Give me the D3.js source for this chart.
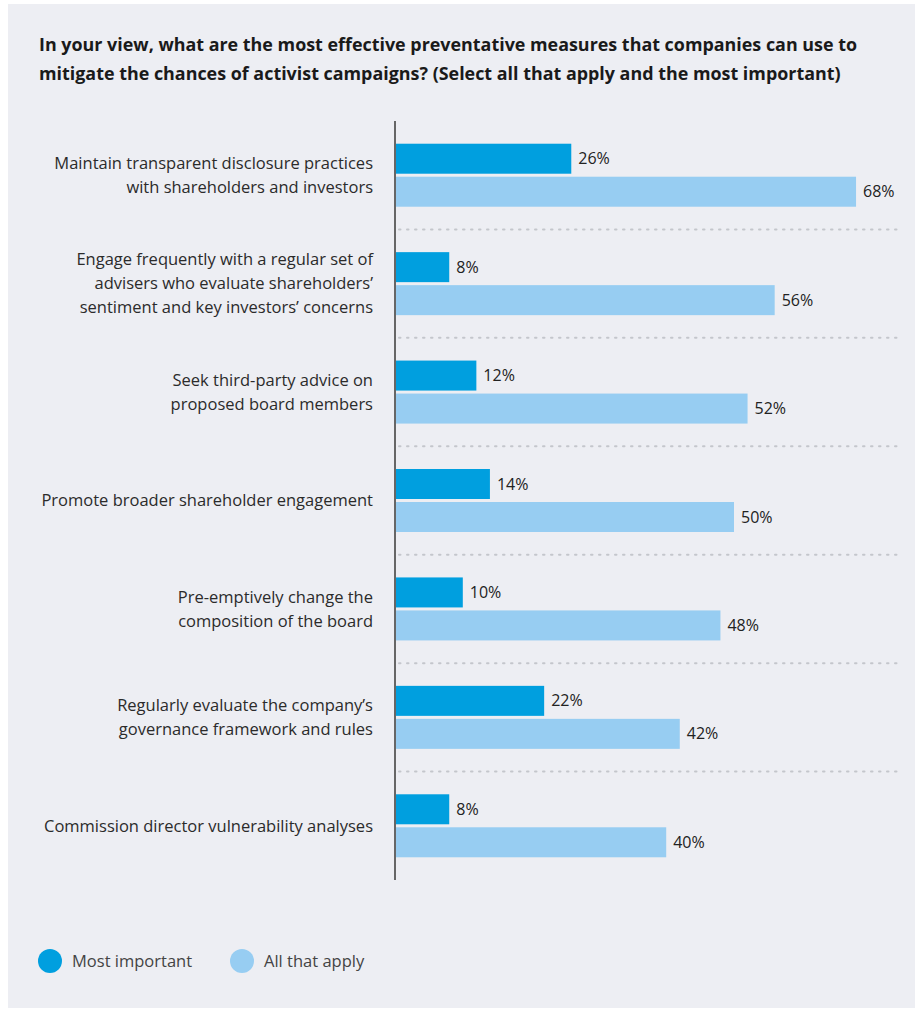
<!DOCTYPE html>
<html>
<head>
<meta charset="utf-8">
<script src="https://cdn.jsdelivr.net/npm/d3@7"></script>
<style>
  html, body { margin: 0; padding: 0; background: #ffffff; }
  svg { display: block; }
  text { font-family: "Open Sans", "Noto Sans", sans-serif; }
</style>
</head>
<body>
<svg id="chart" width="923" height="1010"></svg>
<script>
// Survey answers, one entry per preventative measure
const categories = [
  ["Maintain transparent disclosure practices", "with shareholders and investors"],
  ["Engage frequently with a regular set of", "advisers who evaluate shareholders\u2019", "sentiment and key investors\u2019 concerns"],
  ["Seek third-party advice on", "proposed board members"],
  ["Promote broader shareholder engagement"],
  ["Pre-emptively change the", "composition of the board"],
  ["Regularly evaluate the company\u2019s", "governance framework and rules"],
  ["Commission director vulnerability analyses"]
];
const mostImportant = [26, 8, 12, 14, 10, 22, 8];
const allThatApply = [68, 56, 52, 50, 48, 42, 40];
const seriesNames = ["Most important", "All that apply"];
const seriesColors = ["#009fdf", "#97cdf2"];

const titleLines = [
  "In your view, what are the most effective preventative measures that companies can use to",
  "mitigate the chances of activist campaigns? (Select all that apply and the most important)"
];

const svg = d3.select("#chart");

// Panel background
svg.append("rect")
  .attr("x", 8).attr("y", 4)
  .attr("width", 907).attr("height", 1004)
  .attr("fill", "#edeef3");

// Title
svg.append("g").selectAll("text")
  .data(titleLines)
  .join("text")
  .attr("x", 39)
  .attr("y", (d, i) => 51 + i * 29)
  .attr("font-size", 17.9)
  .attr("font-weight", 700)
  .attr("fill", "#1a1a1a")
  .text(d => d);

const axisX = 395;
const plotTop = 121, plotBottom = 880;

const idx = d3.range(categories.length);
const y = d3.scaleBand().domain(idx).range([plotTop, plotBottom]).padding(0);
const x = d3.scaleLinear().domain([0, 100]).range([axisX, axisX + 678]);

const barH = 30, barGap = 3;
const inner = d3.scaleBand().domain([0, 1])
  .range([0, barH * 2 + barGap]).paddingInner(barGap / (barH + barGap));

const groupOffset = (y.bandwidth() - (barH * 2 + barGap)) / 2;

// Dotted separators between groups
svg.append("g").selectAll("line")
  .data(idx.slice(1))
  .join("line")
  .attr("x1", 399).attr("x2", 897)
  .attr("y1", d => y(d)).attr("y2", d => y(d))
  .attr("stroke", "#c4c6cc")
  .attr("stroke-width", 2)
  .attr("stroke-dasharray", "1.5 6.5")
  .attr("stroke-linecap", "round");

const rows = idx.map(i => ({ i, values: [mostImportant[i], allThatApply[i]] }));

const groups = svg.append("g").selectAll("g")
  .data(rows)
  .join("g")
  .attr("transform", d => `translate(0,${y(d.i) + groupOffset})`);

groups.selectAll("rect")
  .data(d => d.values.map((v, k) => ({ v, k })))
  .join("rect")
  .attr("x", x(0))
  .attr("y", d => inner(d.k))
  .attr("width", d => x(d.v) - x(0))
  .attr("height", inner.bandwidth())
  .attr("fill", d => seriesColors[d.k]);

groups.selectAll("text.val")
  .data(d => d.values.map((v, k) => ({ v, k })))
  .join("text")
  .attr("class", "val")
  .attr("x", d => x(d.v) + 7)
  .attr("y", d => inner(d.k) + inner.bandwidth() / 2)
  .attr("dy", "0.35em")
  .attr("font-size", 16)
  .attr("fill", "#222")
  .text(d => d.v + "%");

// Category labels, right-aligned against the axis
const lineH = 24;
svg.append("g").selectAll("text")
  .data(rows)
  .join("text")
  .attr("text-anchor", "end")
  .attr("font-size", 16.5)
  .attr("fill", "#2b2b2b")
  .attr("y", d => y(d.i) + y.bandwidth() / 2)
  .each(function(d) {
    const lines = categories[d.i];
    const t = d3.select(this);
    lines.forEach((ln, j) => {
      t.append("tspan")
        .attr("x", 373)
        .attr("y", y(d.i) + y.bandwidth() / 2 + (j - (lines.length - 1) / 2) * lineH)
        .attr("dy", "0.35em")
        .text(ln);
    });
  });

// Vertical axis line
svg.append("line")
  .attr("x1", axisX).attr("x2", axisX)
  .attr("y1", plotTop).attr("y2", plotBottom)
  .attr("stroke", "#666")
  .attr("stroke-width", 2);

// Legend
const legendX = [50, 242];
const legend = svg.append("g").selectAll("g")
  .data(seriesNames)
  .join("g")
  .attr("transform", (d, i) => `translate(${legendX[i]},961)`);
legend.append("circle").attr("r", 12).attr("fill", (d, i) => seriesColors[i]);
legend.append("text")
  .attr("x", 22).attr("dy", "0.35em")
  .attr("font-size", 16.5)
  .attr("fill", "#444")
  .text(d => d);
</script>
</body>
</html>
